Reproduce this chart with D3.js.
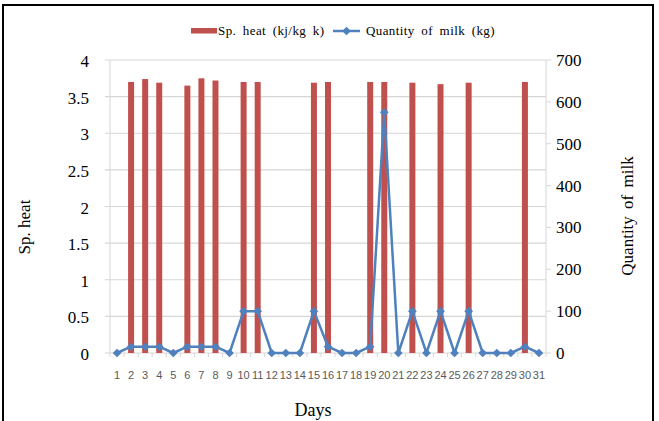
<!DOCTYPE html>
<html>
<head>
<meta charset="utf-8">
<script src="https://cdn.jsdelivr.net/npm/d3@7"></script>
<style>
  body { margin: 0; background: #fff; }
  svg { display: block; }
</style>
</head>
<body>
<svg id="chart" width="659" height="421"></svg>
<script>
// days of the month
const days = d3.range(1, 32).map(String);
// specific heat (kj/kg k), 0 where no reading
const spHeat = [0, 3.70, 3.74, 3.69, 0, 3.65, 3.75, 3.72, 0, 3.70, 3.70, 0, 0, 0, 3.69, 3.70,
                0, 0, 3.70, 3.70, 0, 3.69, 0, 3.67, 0, 3.69, 0, 0, 0, 3.70, 0];
// quantity of milk (kg)
const milk = [0, 15, 15, 15, 0, 15, 15, 15, 0, 100, 100, 0, 0, 0, 100, 15,
              0, 0, 15, 575, 0, 100, 0, 100, 0, 100, 0, 0, 0, 15, 0];
const leftTicks = [0, 0.5, 1, 1.5, 2, 2.5, 3, 3.5, 4];
const rightTicks = [0, 100, 200, 300, 400, 500, 600, 700];

const svg = d3.select("#chart");
const m = { left: 110, right: 546, top: 60, bottom: 353 };
const serif = "'Liberation Serif', 'DejaVu Serif', serif";

// outer frame
svg.append("rect")
    .attr("x", 3).attr("y", 5)
    .attr("width", 650).attr("height", 420)
    .attr("fill", "none")
    .attr("stroke", "black")
    .attr("stroke-width", 2);

const x = d3.scaleBand().domain(days).range([m.left, m.right]);
const yL = d3.scaleLinear().domain([0, 4]).range([m.bottom, m.top]);
const yR = d3.scaleLinear().domain([0, 700]).range([m.bottom, m.top]);

// grid lines
svg.append("g").selectAll("line")
    .data(leftTicks)
    .join("line")
    .attr("x1", m.left - 5).attr("x2", m.right)
    .attr("y1", d => yL(d)).attr("y2", d => yL(d))
    .attr("stroke", "#d6d6d6")
    .attr("stroke-width", 1.2);

// axis lines
svg.append("line")
    .attr("x1", m.left).attr("x2", m.left)
    .attr("y1", m.top).attr("y2", m.bottom)
    .attr("stroke", "#d6d6d6");
svg.append("line")
    .attr("x1", m.right).attr("x2", m.right)
    .attr("y1", m.top).attr("y2", m.bottom)
    .attr("stroke", "#d6d6d6");
svg.append("g").selectAll("line")
    .data(rightTicks)
    .join("line")
    .attr("x1", m.right).attr("x2", m.right + 5)
    .attr("y1", d => yR(d)).attr("y2", d => yR(d))
    .attr("stroke", "#d6d6d6");
// category ticks on the bottom
svg.append("g").selectAll("line")
    .data(days.concat(["end"]))
    .join("line")
    .attr("x1", (d, i) => m.left + i * x.step())
    .attr("x2", (d, i) => m.left + i * x.step())
    .attr("y1", m.bottom).attr("y2", m.bottom + 4)
    .attr("stroke", "#d6d6d6");

// bars
const bw = 6;
svg.append("g").selectAll("rect")
    .data(spHeat)
    .join("rect")
    .attr("x", (d, i) => x(days[i]) + x.bandwidth() / 2 - bw / 2)
    .attr("y", d => yL(d))
    .attr("width", bw)
    .attr("height", d => m.bottom - yL(d))
    .attr("fill", "#c0504d");

// milk line
const line = d3.line()
    .x((d, i) => x(days[i]) + x.bandwidth() / 2)
    .y(d => yR(d));
svg.append("path")
    .datum(milk)
    .attr("d", line)
    .attr("fill", "none")
    .attr("stroke", "#4f81bd")
    .attr("stroke-width", 2.5)
    .attr("stroke-linejoin", "round");

const diamond = d3.symbol().type(d3.symbolDiamond2 || d3.symbolDiamond).size(48);
svg.append("g").selectAll("path")
    .data(milk)
    .join("path")
    .attr("d", diamond)
    .attr("transform", (d, i) => `translate(${x(days[i]) + x.bandwidth() / 2},${yR(d)})`)
    .attr("fill", "#4f81bd");

// left tick labels
svg.append("g").selectAll("text")
    .data(leftTicks)
    .join("text")
    .attr("x", 89)
    .attr("y", d => yL(d) + 7)
    .attr("text-anchor", "end")
    .style("font-family", serif)
    .style("font-size", "17px")
    .text(d => d);

// right tick labels
svg.append("g").selectAll("text")
    .data(rightTicks)
    .join("text")
    .attr("x", 556)
    .attr("y", d => yR(d) + 6)
    .style("font-family", serif)
    .style("font-size", "17px")
    .text(d => d);

// x tick labels
svg.append("g").selectAll("text")
    .data(days)
    .join("text")
    .attr("x", d => x(d) + x.bandwidth() / 2)
    .attr("y", 379)
    .attr("text-anchor", "middle")
    .style("font-family", "'Liberation Sans', Arial, sans-serif")
    .style("font-size", "11px")
    .style("fill", "#595959")
    .text(d => d);

// axis titles
svg.append("text")
    .attr("transform", "translate(30,227) rotate(-90)")
    .attr("text-anchor", "middle")
    .style("font-family", serif)
    .style("font-size", "17px")
    .text("Sp. heat");
svg.append("text")
    .attr("transform", "translate(633,216) rotate(-90)")
    .attr("text-anchor", "middle")
    .style("font-family", serif)
    .style("font-size", "17px")
    .style("word-spacing", "3px")
    .text("Quantity of milk");
svg.append("text")
    .attr("x", 313).attr("y", 416)
    .attr("text-anchor", "middle")
    .style("font-family", serif)
    .style("font-size", "18px")
    .text("Days");

// legend
const lg = svg.append("g")
    .style("font-family", serif)
    .style("font-size", "13px")
    .style("letter-spacing", "0.4px")
    .style("word-spacing", "3px");
lg.append("rect")
    .attr("x", 191).attr("y", 28)
    .attr("width", 26).attr("height", 5.5)
    .attr("fill", "#c0504d");
lg.append("text")
    .attr("x", 218).attr("y", 34.5)
    .text("Sp. heat (kj/kg k)");
lg.append("line")
    .attr("x1", 333).attr("x2", 360)
    .attr("y1", 31).attr("y2", 31)
    .attr("stroke", "#4f81bd")
    .attr("stroke-width", 2.5);
lg.append("path")
    .attr("d", diamond)
    .attr("transform", "translate(346.5,31)")
    .attr("fill", "#4f81bd");
lg.append("text")
    .attr("x", 366).attr("y", 34.5)
    .text("Quantity of milk (kg)");
</script>
</body>
</html>
